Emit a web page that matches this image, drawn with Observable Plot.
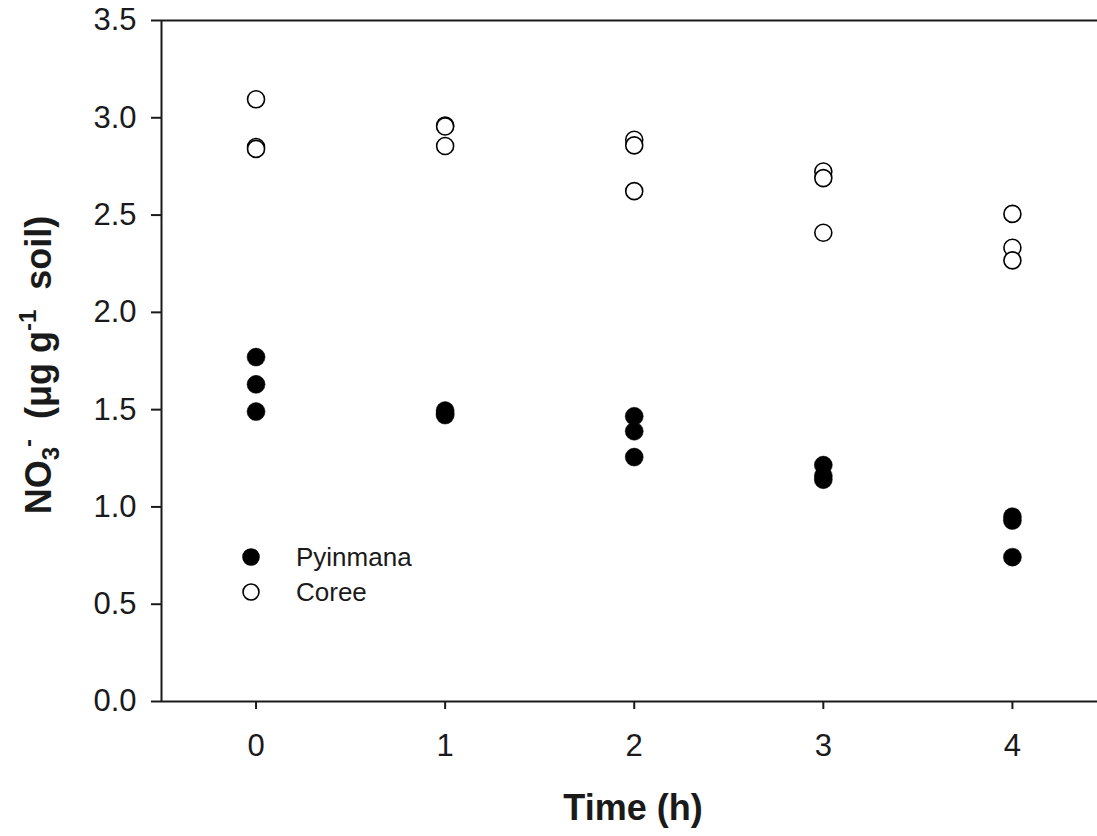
<!DOCTYPE html>
<html><head><meta charset="utf-8">
<script src="https://cdn.jsdelivr.net/npm/d3@7"></script>
<script src="https://cdn.jsdelivr.net/npm/@observablehq/plot@0.6"></script>
<style>body{margin:0;background:#fff;} #chart svg{display:block;}</style>
</head><body><div id="chart"></div>
<script>
const times = [0,0,0, 1,1,1, 2,2,2, 3,3,3, 4,4,4];
const pyinmana = [1.77,1.63,1.49, 1.495,1.48,1.472, 1.466,1.389,1.256, 1.215,1.16,1.14, 0.95,0.93,0.742];
const coree = [3.095,2.85,2.84, 2.96,2.955,2.855, 2.887,2.858,2.623, 2.724,2.69,2.409, 2.506,2.332,2.267];
const xTicks = [0,1,2,3,4];
const yTicks = [0,0.5,1.0,1.5,2.0,2.5,3.0,3.5];
const seriesNames = ["Pyinmana","Coree"];
const xTitle = "Time (h)";

const pyRows = times.map((t,i)=>({time:t, value:pyinmana[i], series:seriesNames[0]}));
const coRows = times.map((t,i)=>({time:t, value:coree[i], series:seriesNames[1]}));

const W = 1097, H = 836;
const font = "'Liberation Sans', Arial, sans-serif";
const ink = "#1a1a1a";

const plot = Plot.plot({
  width: W, height: H,
  marginLeft: 161, marginRight: 0, marginTop: 20, marginBottom: 135,
  style: {fontFamily: font, fontSize: "31px", color: ink, background: "#fff", overflow: "visible"},
  x: {domain: [-0.5, 4.45]},
  y: {domain: [0, 3.5]},
  marks: [
    Plot.ruleY([0, 3.5], {stroke: ink, strokeWidth: 2}),
    Plot.ruleX([-0.5], {stroke: ink, strokeWidth: 2}),
    Plot.axisY({ticks: yTicks, tickFormat: d3.format(".1f"), tickSize: 10, tickPadding: 15, strokeWidth: 2, stroke: ink, fill: ink, fontSize: 31, label: null}),
    Plot.axisX({ticks: xTicks, tickFormat: d3.format("d"), tickSize: 8, tickPadding: 24, strokeWidth: 2, stroke: ink, fill: ink, fontSize: 31, label: null}),
    Plot.dot(pyRows, {x: "time", y: "value", r: 9, fill: "#000", stroke: "#000", strokeWidth: 0.5}),
    Plot.dot(coRows, {x: "time", y: "value", r: 8.5, fill: "#fff", stroke: "#000", strokeWidth: 1.6})
  ]
});
document.getElementById("chart").appendChild(plot);

const svg = d3.select(plot);
// X title
svg.append("text").attr("x", 633).attr("y", 820).attr("text-anchor", "middle")
  .attr("font-family", font).attr("font-weight", "bold").attr("font-size", 36).attr("fill", ink)
  .text(xTitle);
// Y title with sub/superscripts
const yt = svg.append("text").attr("transform", "translate(51,365) rotate(-90)")
  .attr("text-anchor", "middle").attr("font-family", font).attr("font-weight", "bold")
  .attr("font-size", 36).attr("fill", ink);
yt.append("tspan").text("NO");
yt.append("tspan").attr("dy", 8).attr("font-size", 24).text("3");
yt.append("tspan").attr("dy", -23).attr("font-size", 24).text("-");
yt.append("tspan").attr("dy", 15).text("  (μg g");
yt.append("tspan").attr("dy", -15).attr("font-size", 24).text("-1");
yt.append("tspan").attr("dy", 15).text("  soil)");
// Legend
const leg = svg.append("g").attr("font-family", font).attr("font-size", 26).attr("fill", ink).attr("text-anchor", "start");
[[seriesNames[0], 557, "#000", "#000"], [seriesNames[1], 592, "#fff", "#000"]].forEach(([name, y, f, s]) => {
  leg.append("circle").attr("cx", 251).attr("cy", y).attr("r", 8).attr("fill", f).attr("stroke", s).attr("stroke-width", 1.6);
  leg.append("text").attr("x", 296).attr("y", y).attr("dy", "0.35em").text(name);
});
</script>
</body></html>
